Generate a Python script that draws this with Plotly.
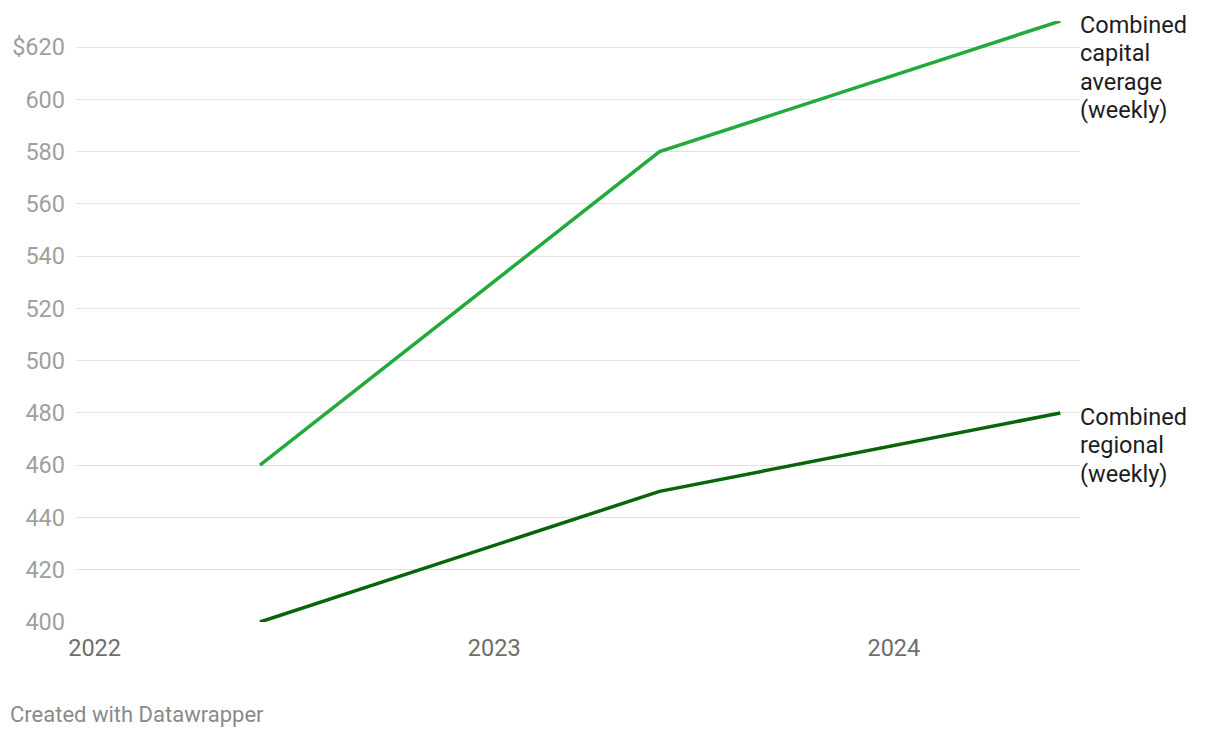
import plotly.graph_objects as go

dates = ["2022-06-01", "2023-06-01", "2024-06-01"]
capital = [460, 580, 630]
regional = [400, 450, 480]
capital_label = ["Combined", "capital", "average", "(weekly)"]
regional_label = ["Combined", "regional", "(weekly)"]
y_ticks = [400, 420, 440, 460, 480, 500, 520, 540, 560, 580, 600, 620]
y_ticktext = [str(v) for v in y_ticks[:-1]] + ["$620"]
x_ticks = ["2022-01-01", "2023-01-01", "2024-01-01"]
x_ticktext = ["2022", "2023", "2024"]

FONT = "Roboto"
fig = go.Figure()
fig.add_trace(go.Scatter(x=dates, y=capital, mode="lines", cliponaxis=False,
                         line=dict(color="#22aa3c", width=3.5), hoverinfo="skip"))
fig.add_trace(go.Scatter(x=dates, y=regional, mode="lines", cliponaxis=False,
                         line=dict(color="#09640b", width=3.5), hoverinfo="skip"))

LINE_H = 28.4
for label, series in ((capital_label, capital), (regional_label, regional)):
    for i, txt in enumerate(label):
        fig.add_annotation(x=dates[-1], y=series[-1], text=txt, showarrow=False,
                           xanchor="left", yanchor="middle", align="left",
                           xshift=18, yshift=-(4 + LINE_H * i),
                           font=dict(family=FONT, size=23.5, color="#1d1d1d"))

fig.add_annotation(xref="paper", yref="paper", x=(8 - 76) / 1004, y=-92 / 601,
                   xanchor="left", yanchor="middle", showarrow=False,
                   text="Created with Datawrapper",
                   font=dict(family=FONT, size=22, color="#8a8a8a"))

fig.update_layout(
    width=1220, height=738,
    margin=dict(l=76, r=140, t=21, b=116, pad=0),
    paper_bgcolor="white", plot_bgcolor="white",
    showlegend=False,
    font=dict(family=FONT),
    xaxis=dict(type="date", range=["2021-12-15", "2024-06-19"],
               tickvals=x_ticks, ticktext=x_ticktext,
               showgrid=False, zeroline=False, showline=False,
               ticks="", tickfont=dict(family=FONT, size=23.5, color="#6e6e6e"),
               ticklabelstandoff=9),
    yaxis=dict(range=[400, 630], tickvals=y_ticks, ticktext=y_ticktext,
               showgrid=True, gridcolor="#e2e2e2", gridwidth=1.3,
               zeroline=False, showline=False, ticks="",
               tickfont=dict(family=FONT, size=23.5, color="#9f9f9f"),
               ticklabelstandoff=10),
)

fig.write_html("out.html")
